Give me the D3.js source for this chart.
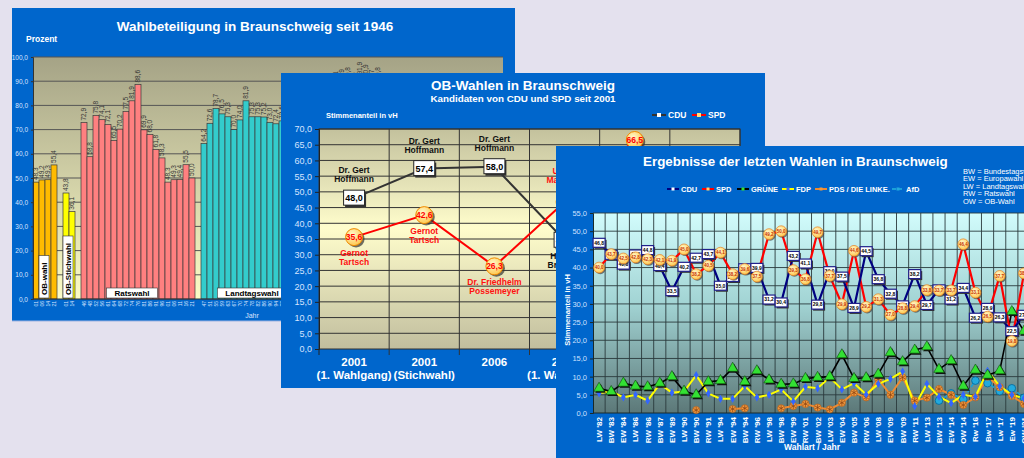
<!DOCTYPE html>
<html>
<head>
<meta charset="utf-8">
<script src="https://cdn.jsdelivr.net/npm/d3@7/dist/d3.min.js"></script>
<style>
  body { margin: 0; background: #e4e1ee; }
  svg { display: block; font-family: "Liberation Sans", Arial, sans-serif; }
</style>
</head>
<body>
<svg width="1024" height="458"></svg>
<script>
// ---- panel 1: Wahlbeteiligung (turnout, %)
const obYears = ["01", "06", "14", "21"];
const obValues = [48.3, 49.2, 49.3, 55.4];
const stichYears = ["01", "14"];
const stichValues = [43.8, 36.1];
const ratYears = ["46","48","52","56","61","64","68","72","74","76","81","86","91","96","01","06","11","16","21"];
const ratValues = [72.9, 58.8, 75.8, 74.1, 72.1, 65.5, 70.2, 77.5, 81.9, 88.6, 69.9, 68.0, 61.8, 58.3, 48.3, 49.3, 49.4, 55.5, 50.0];
const landYears = ["47","51","55","59","63","67","70","74","78","82","86","90","94","98","03","08","13","17","22"];
const landValues = [64.2, 72.6, 78.7, 76.5, 75.3, 70.0, 74.0, 81.9, 75.3, 75.3, 75.2, 73.0, 72.4, 73.6, 68.5, 60.2, 62.0, 65.0, 61.0];
const bundYears = ["49","53","57","61","65","69","72","76","80","83","87","90","94","98","02","05","09","13","17","21"];
const bundValues = [78.5, 86.2, 88.1, 88.9, 89.8, 87.6, 91.9, 90.9, 88.7, 89.8, 84.3, 78.4, 80.1, 83.0, 80.5, 79.0, 72.9, 73.5, 78.5, 78.9];

// ---- panel 2: OB-Wahlen
const obCats = ["2001|(1. Wahlgang)", "2001|(Stichwahl)", "2006", "2014|(1. Wahlgang)", "2014|(Stichwahl)", "2021|(1. Wahlgang)"];
const obCdu = [48.0, 57.4, 58.0, 34.6, 33.5, 31.4];
const obSpd = [35.6, 42.6, 26.3, 46.8, 66.5, 47.8];
const obCduNames = ["Dr. Gert|Hoffmann", "Dr. Gert|Hoffmann", "Dr. Gert|Hoffmann", "Hennig|Brandes", "", "Kaspar|Haller"];
const obSpdNames = ["Gernot|Tartsch", "Gernot|Tartsch", "Dr. Friedhelm|Possemeyer", "Ulrich|Markurth", "", "Thorsten|Kornblum"];

// ---- panel 3: Ergebnisse der letzten Wahlen
const wahlen = ["LW '82","BW '83","EW '84","LW '86","RW '86","BW '87","EW '89","LW '90","BW '90","RW '91","LW '94","EW '94",
  "BW '94","RW '96","LW '98","BW '98","EW '99","RW '01","BW '02","LW '03","EW '04","BW '05","RW '06","LW '08","EW '09","BW '09",
  "RW '11","LW '13","BW '13","EW '14","OW '14","Rw '16","Bw '17","Lw '17","Ew '19","OW '21"];
const cdu = [46.8, 43.5, 40.8, 43.6, 44.8, 40.4, 33.5, 40.2, 42.7, 43.7, 35.0, 37.4, 39.8, 39.9, 31.2, 30.4, 43.2, 41.1, 29.8, 39.0,
  37.5, 28.9, 44.5, 36.8, 32.8, 29.6, 38.2, 29.7, 34.0, 31.2, 34.4, 26.2, 28.9, 26.3, 22.5, 27.0];
const spd = [40.0, 43.7, 42.5, 42.8, 42.3, 42.1, 41.9, 45.0, 38.2, 40.5, 44.1, 38.2, 39.6, 37.5, 49.2, 50.0, 39.3, 36.8, 49.7, 37.7,
  29.9, 44.6, 29.2, 31.3, 27.0, 28.8, 29.4, 33.8, 33.7, 33.7, 46.4, 33.1, 26.5, 37.7, 19.8, 38.4];
const gruene = [6.8, 5.9, 8.2, 7.4, 7.2, 8.2, 10.0, 6.0, 5.0, 8.6, 8.9, 12.3, 8.6, 11.6, 9.1, 7.9, 8.0, 9.5, 9.8, 10.0,
  16.0, 9.5, 9.7, 10.7, 16.6, 14.1, 17.3, 18.2, 12.0, 14.4, 7.4, 11.8, 10.4, 11.6, 27.9, 22.5];
const fdp = [5.4, 6.0, 4.3, 5.0, 3.4, 8.0, 5.6, 5.9, 10.4, 5.4, 3.9, 3.9, 7.4, 4.3, 5.0, 6.5, 3.2, 7.2, 6.8, 9.8,
  6.5, 8.2, 5.1, 8.0, 9.4, 11.4, 1.9, 8.0, 4.5, 2.7, 5.0, 4.5, 11.6, 7.4, 5.0, 4.0];
const linke = [null, null, null, null, null, null, null, null, 0.8, null, null, 1.1, 1.3, null, null, 1.3, 1.9, 2.5, 1.5, 1.0,
  2.8, 5.6, 4.3, 9.3, 5.0, 9.8, 3.4, 4.2, 6.6, 5.0, 2.2, 4.3, 10.0, 7.1, 4.7, 2.5];
const afd = [null, null, null, null, null, null, null, null, null, null, null, null, null, null, null, null, null, null, null, null,
  null, null, null, null, null, null, null, null, 3.4, 5.4, 3.8, 8.9, 8.2, 6.0, 6.8, 4.2];
const abbrev = ["BW = Bundestagswahl", "EW = Europawahl", "LW = Landtagswahl", "RW = Ratswahl", "OW = OB-Wahl"];

const fmt = v => d3.format(".1f")(v).replace(".", ",");
const svg = d3.select("svg");
const defs = svg.append("defs");

function vgrad(id, stops) {
  const g = defs.append("linearGradient").attr("id", id)
    .attr("x1", 0).attr("y1", 0).attr("x2", 0).attr("y2", 1);
  stops.forEach(s => g.append("stop").attr("offset", s[0]).attr("stop-color", s[1]));
}
function rgrad(id, c0, c1) {
  const g = defs.append("radialGradient").attr("id", id).attr("cx", "40%").attr("cy", "35%").attr("r", "65%");
  g.append("stop").attr("offset", 0).attr("stop-color", c0);
  g.append("stop").attr("offset", 1).attr("stop-color", c1);
}
vgrad("bg1", [[0, "#a5a386"], [1, "#fcfcc6"]]);
vgrad("bg2", [[0, "#c3c19d"], [0.45, "#fffdcc"], [1, "#c1be9e"]]);
vgrad("bg3", [[0, "#d2fcfc"], [0.45, "#a2d4d4"], [1, "#5c7878"]]);
rgrad("ball", "#fffbd0", "#ffc850");

svg.append("rect").attr("width", 1024).attr("height", 458).attr("fill", "#e4e1ee");

function multiline(sel, str, x, y, dy) {
  str.split("|").forEach((s, i) => sel.append("tspan").attr("x", x).attr("y", y + i * dy).text(s));
}

// =================== PANEL 1 ===================
const p1 = svg.append("g");
p1.append("rect").attr("x", 12).attr("y", 8).attr("width", 503).attr("height", 313).attr("fill", "#0066cc");
p1.append("line").attr("x1", 12).attr("x2", 515).attr("y1", 321).attr("y2", 321).attr("stroke", "#9fb4e0");
p1.append("text").attr("x", 255).attr("y", 31).attr("text-anchor", "middle").attr("fill", "#fff")
  .attr("font-weight", "bold").attr("font-size", 13.5).text("Wahlbeteiligung in Braunschweig seit 1946");
p1.append("text").attr("x", 26).attr("y", 42).attr("fill", "#fff").attr("font-weight", "bold").attr("font-size", 8.5).text("Prozent");

const groups = [
  { name: "OB-wahl", years: obYears, values: obValues, color: "#ffbb00", vertical: true },
  { name: "OB-Stichwahl", years: stichYears, values: stichValues, color: "#ffff00", vertical: true },
  { name: "Ratswahl", years: ratYears, values: ratValues, color: "#ff8080" },
  { name: "Landtagswahl", years: landYears, values: landValues, color: "#33cccc" },
  { name: "Bundestagswahl", years: bundYears, values: bundValues, color: "#9999ff" }
];
const keys = [], bars = [];
groups.forEach((g, gi) => {
  g.years.forEach((yr, i) => {
    const k = gi + "-" + i;
    keys.push(k);
    bars.push({ k, year: yr, value: g.values[i], color: g.color, gi });
  });
  keys.push("gap" + gi);
});
const x1 = d3.scaleBand().domain(keys).range([33, 33 + keys.length * 6]);
const y1 = d3.scaleLinear().domain([0, 100]).range([299, 57]);
p1.append("rect").attr("x", 33).attr("y", 57).attr("width", 470).attr("height", 242).attr("fill", "url(#bg1)");
p1.append("g").selectAll("line").data(d3.range(10, 101, 10)).enter().append("line")
  .attr("x1", 33).attr("x2", 503).attr("y1", d => y1(d)).attr("y2", d => y1(d))
  .attr("stroke", "#555").attr("stroke-width", 1);
p1.append("g").selectAll("rect").data(bars).enter().append("rect")
  .attr("x", d => x1(d.k)).attr("width", x1.bandwidth())
  .attr("y", d => y1(d.value)).attr("height", d => 299 - y1(d.value))
  .attr("fill", d => d.color).attr("stroke", "#3a3a3a").attr("stroke-width", 0.7);
p1.append("g").selectAll("text").data(bars).enter().append("text")
  .attr("transform", d => `translate(${x1(d.k) + x1.bandwidth() / 2 + 2},${y1(d.value) - 2}) rotate(-90)`)
  .attr("font-size", 6.5).attr("fill", "#333").text(d => fmt(d.value));
p1.append("g").selectAll("text").data(bars).enter().append("text")
  .attr("transform", d => `translate(${x1(d.k) + x1.bandwidth() / 2 + 2},301) rotate(-90)`)
  .attr("text-anchor", "end").attr("font-size", 5).attr("fill", "#d8e4ff").text(d => d.year);
const ax1 = p1.append("g").attr("transform", "translate(33,0)")
  .call(d3.axisLeft(y1).tickValues(d3.range(0, 101, 10)).tickFormat(fmt).tickSize(2));
ax1.selectAll("text").attr("fill", "#d8e4ff").attr("font-size", 6.5);
ax1.selectAll("line,path").attr("stroke", "#333");
p1.append("line").attr("x1", 33).attr("x2", 503).attr("y1", 299).attr("y2", 299).attr("stroke", "#333");

// group labels
groups.forEach((g, gi) => {
  const ks = keys.filter(k => k.startsWith(gi + "-"));
  const a = x1(ks[0]), b = x1(ks[ks.length - 1]) + x1.bandwidth();
  const lg = p1.append("g");
  if (g.vertical) {
    const cx = (a + b) / 2 - 1;
    const t = lg.append("text").attr("transform", `translate(${cx + 3},295) rotate(-90)`)
      .attr("font-size", 8).attr("font-weight", "bold").text(g.name);
    const w = t.node().getComputedTextLength() + 10;
    lg.insert("rect", "text").attr("x", cx - 5).attr("y", 298 - w).attr("width", 10).attr("height", w)
      .attr("fill", "#fff").attr("stroke", "#333").attr("stroke-width", 0.6);
  } else {
    const cx = (a + b) / 2 - 6;
    const t = lg.append("text").attr("x", cx).attr("y", 296).attr("text-anchor", "middle")
      .attr("font-size", 8).attr("font-weight", "bold").text(g.name);
    const w = t.node().getComputedTextLength() + 16;
    lg.insert("rect", "text").attr("x", cx - w / 2).attr("y", 288).attr("width", w).attr("height", 10)
      .attr("fill", "#fff").attr("stroke", "#333").attr("stroke-width", 0.6);
  }
});
p1.append("text").attr("x", 252).attr("y", 318).attr("text-anchor", "middle").attr("fill", "#d8e4ff")
  .attr("font-size", 7).text("Jahr");

// =================== PANEL 2 ===================
const p2 = svg.append("g");
p2.append("rect").attr("x", 281).attr("y", 73).attr("width", 484).attr("height", 315).attr("fill", "#0066cc");
p2.append("text").attr("x", 523).attr("y", 90).attr("text-anchor", "middle").attr("fill", "#fff")
  .attr("font-weight", "bold").attr("font-size", 13.5).text("OB-Wahlen in Braunschweig");
p2.append("text").attr("x", 523).attr("y", 102).attr("text-anchor", "middle").attr("fill", "#fff")
  .attr("font-weight", "bold").attr("font-size", 9.8).text("Kandidaten von CDU und SPD seit 2001");
p2.append("text").attr("x", 326).attr("y", 118).attr("fill", "#fff").attr("font-weight", "bold")
  .attr("font-size", 7.5).text("Stimmenanteil in vH");

const x2 = d3.scaleBand().domain(obCats).range([319, 740]);
const y2 = d3.scaleLinear().domain([0, 70]).range([349, 129]);
p2.append("rect").attr("x", 319).attr("y", 129).attr("width", 421).attr("height", 220).attr("fill", "url(#bg2)");
p2.append("g").selectAll("line").data(d3.range(5, 71, 5)).enter().append("line")
  .attr("x1", 319).attr("x2", 740).attr("y1", d => y2(d)).attr("y2", d => y2(d)).attr("stroke", "#333");
p2.append("g").selectAll("line").data(obCats).enter().append("line")
  .attr("x1", d => x2(d) + x2.bandwidth()).attr("x2", d => x2(d) + x2.bandwidth())
  .attr("y1", 129).attr("y2", 355).attr("stroke", "#333");
p2.append("line").attr("x1", 319).attr("x2", 319).attr("y1", 349).attr("y2", 355).attr("stroke", "#222");
p2.append("rect").attr("x", 319).attr("y", 129).attr("width", 421).attr("height", 220)
  .attr("fill", "none").attr("stroke", "#333");
const ax2 = p2.append("g").attr("transform", "translate(319,0)")
  .call(d3.axisLeft(y2).tickValues(d3.range(0, 71, 5)).tickFormat(fmt).tickSize(4));
ax2.selectAll("text").attr("fill", "#d6e4ff").attr("font-size", 9);
ax2.selectAll("line,path").attr("stroke", "#222");
p2.append("g").selectAll("text").data(obCats).enter().append("text")
  .attr("text-anchor", "middle").attr("fill", "#fff").attr("font-weight", "bold").attr("font-size", 11.5)
  .each(function (d) { multiline(d3.select(this), d, x2(d) + x2.bandwidth() / 2, 366, 13); });

const cx2 = (d, i) => x2(obCats[i]) + x2.bandwidth() / 2;
p2.append("path").datum(obCdu).attr("fill", "none").attr("stroke", "#333").attr("stroke-width", 2)
  .attr("d", d3.line().x((d, i) => cx2(d, i)).y(d => y2(d)));
p2.append("path").datum(obSpd).attr("fill", "none").attr("stroke", "#ff0000").attr("stroke-width", 2)
  .attr("d", d3.line().x((d, i) => cx2(d, i)).y(d => y2(d)));

obCdu.forEach((v, i) => {
  const x = cx2(v, i), y = y2(v);
  p2.append("rect").attr("x", x - 9).attr("y", y - 6).attr("width", 21).attr("height", 15).attr("fill", "#333");
  p2.append("rect").attr("x", x - 10.5).attr("y", y - 8).attr("width", 21).attr("height", 15)
    .attr("fill", "#fff").attr("stroke", "#222");
  p2.append("text").attr("x", x).attr("y", y + 3).attr("text-anchor", "middle").attr("font-weight", "bold")
    .attr("font-size", 9).text(fmt(v));
  const above = v > obSpd[i];
  const t = p2.append("text").attr("text-anchor", "middle").attr("font-weight", "bold").attr("font-size", 8.5).attr("fill", "#111");
  if (obCduNames[i]) multiline(t, obCduNames[i], x, above ? y - 25 : y + 19, 9);
});
obSpd.forEach((v, i) => {
  const x = cx2(v, i), y = y2(v);
  p2.append("circle").attr("cx", x + 2).attr("cy", y + 2).attr("r", 8.5).attr("fill", "#333").attr("opacity", 0.7);
  p2.append("circle").attr("cx", x).attr("cy", y).attr("r", 8.5).attr("fill", "url(#ball)").attr("stroke", "#f08a00");
  p2.append("text").attr("x", x).attr("y", y + 3).attr("text-anchor", "middle").attr("font-weight", "bold")
    .attr("font-size", 8.5).attr("fill", "#ff0000").text(fmt(v));
  const below = v < obCdu[i];
  const t = p2.append("text").attr("text-anchor", "middle").attr("font-weight", "bold").attr("font-size", 8.5).attr("fill", "#ff1010");
  if (obSpdNames[i]) multiline(t, obSpdNames[i], x, below ? y + 19 : y - 28, 9);
});
// legend
[["CDU", "#333", 652], ["SPD", "#ff0000", 692]].forEach(([n, c, lx]) => {
  p2.append("line").attr("x1", lx).attr("x2", lx + 14).attr("y1", 115).attr("y2", 115).attr("stroke", c).attr("stroke-width", 2);
  p2.append("rect").attr("x", lx + 5).attr("y", 113).attr("width", 4).attr("height", 4).attr("fill", n === "CDU" ? "#fff" : "#ffe080");
  p2.append("text").attr("x", lx + 16).attr("y", 118).attr("fill", "#fff").attr("font-weight", "bold").attr("font-size", 8.5).text(n);
});

// =================== PANEL 3 ===================
const p3 = svg.append("g");
p3.append("rect").attr("x", 556).attr("y", 146).attr("width", 480).attr("height", 320).attr("fill", "#0066cc");
p3.append("text").attr("x", 643).attr("y", 166).attr("fill", "#fff").attr("font-weight", "bold")
  .attr("font-size", 13.4).text("Ergebnisse der letzten Wahlen in Braunschweig");
p3.append("g").selectAll("text").data(abbrev).enter().append("text")
  .attr("x", 963).attr("y", (d, i) => 174 + i * 7.4).attr("fill", "#fff").attr("font-size", 7.5).text(d => d);

const x3 = d3.scaleBand().domain(wahlen).range([593, 593 + wahlen.length * 12.14]);
const y3 = d3.scaleLinear().domain([0, 55]).range([413, 213]);
const c3 = d => x3(d) + x3.bandwidth() / 2;
p3.append("rect").attr("x", 593).attr("y", 213).attr("width", 450).attr("height", 200).attr("fill", "url(#bg3)");
p3.append("g").selectAll("line").data(d3.range(5, 56, 5)).enter().append("line")
  .attr("x1", 593).attr("x2", 1040).attr("y1", d => y3(d)).attr("y2", d => y3(d)).attr("stroke", "#2a3a3c").attr("stroke-width", 0.9);
p3.append("g").selectAll("line").data(wahlen).enter().append("line")
  .attr("x1", d => x3(d) + x3.bandwidth()).attr("x2", d => x3(d) + x3.bandwidth())
  .attr("y1", 213).attr("y2", 413).attr("stroke", "#2a3a3c").attr("stroke-width", 0.9);
const ax3 = p3.append("g").attr("transform", "translate(593,0)")
  .call(d3.axisLeft(y3).tickValues(d3.range(0, 56, 5)).tickFormat(fmt).tickSize(3));
ax3.selectAll("text").attr("fill", "#cfe0ff").attr("font-size", 7.5);
ax3.selectAll("line,path").attr("stroke", "#1a2a2a");
p3.append("line").attr("x1", 593).attr("x2", 1040).attr("y1", 413).attr("y2", 413).attr("stroke", "#1a2a2a");
p3.append("text").attr("transform", "translate(570,310) rotate(-90)").attr("text-anchor", "middle")
  .attr("fill", "#fff").attr("font-weight", "bold").attr("font-size", 7.5).text("Stimmenanteil in vH");
p3.append("g").selectAll("text").data(wahlen).enter().append("text")
  .attr("transform", d => `translate(${c3(d) + 3},417) rotate(-90)`).attr("text-anchor", "end")
  .attr("fill", "#fff").attr("font-weight", "bold").attr("font-size", 8).text(d => d);
p3.append("text").attr("x", 812).attr("y", 450).attr("text-anchor", "middle").attr("fill", "#fff")
  .attr("font-weight", "bold").attr("font-size", 8.5).text("Wahlart / Jahr");

const line3 = d3.line().defined(d => d != null).x((d, i) => c3(wahlen[i])).y(d => y3(d));
const series = [
  { name: "CDU", data: cdu, color: "#000080", w: 2.2 },
  { name: "SPD", data: spd, color: "#ff0000", w: 2.2 },
  { name: "GRÜNE", data: gruene, color: "#000000", w: 1.6 },
  { name: "FDP", data: fdp, color: "#ffff00", w: 2 },
  { name: "PDS / DIE LINKE.", data: linke, color: "#f08a30", w: 2 },
  { name: "AfD", data: afd, color: "#1aa0d8", w: 1.6, dash: "4,2" }
];
series.slice().reverse().forEach(s => {
  p3.append("path").datum(s.data).attr("fill", "none").attr("stroke", s.color).attr("stroke-width", s.w)
    .attr("stroke-dasharray", s.dash || null).attr("d", line3);
});
const pts = arr => arr.map((v, i) => ({ v, x: c3(wahlen[i]), y: y3(v) })).filter(d => d.v != null);
const asterisk = d3.symbolAsterisk || d3.symbolCross;

// small-party markers
p3.append("g").selectAll("circle").data(pts(afd)).enter().append("circle")
  .attr("cx", d => d.x).attr("cy", d => d.y).attr("r", 3.8).attr("fill", "#22aadd").attr("stroke", "#006699").attr("stroke-width", 0.8);
const lk = p3.append("g").selectAll("g").data(pts(linke)).enter().append("g")
  .attr("transform", d => `translate(${d.x},${d.y})`);
lk.append("circle").attr("r", 3.6).attr("fill", "#f09a40").attr("stroke", "#b85a10").attr("stroke-width", 0.6);
lk.append("path").attr("d", d3.symbol().type(asterisk).size(26)).attr("fill", "none").attr("stroke", "#8a4010").attr("stroke-width", 0.7);
p3.append("g").selectAll("path").data(pts(fdp)).enter().append("path")
  .attr("transform", d => `translate(${d.x},${d.y})`).attr("d", d3.symbol().type(d3.symbolDiamond).size(20))
  .attr("fill", "#3366ff");
p3.append("g").selectAll("path.sh").data(pts(gruene)).enter().append("path")
  .attr("transform", d => `translate(${d.x + 1.5},${d.y + 1.5})`).attr("d", d3.symbol().type(d3.symbolTriangle).size(48))
  .attr("fill", "#111");
p3.append("g").selectAll("path").data(pts(gruene)).enter().append("path")
  .attr("transform", d => `translate(${d.x},${d.y})`).attr("d", d3.symbol().type(d3.symbolTriangle).size(48))
  .attr("fill", "#33e033").attr("stroke", "#0a4a0a").attr("stroke-width", 0.6);

// CDU boxes
const cb = p3.append("g").selectAll("g").data(pts(cdu)).enter().append("g")
  .attr("transform", d => `translate(${d.x},${d.y})`);
cb.append("rect").attr("x", -4.5).attr("y", -3).attr("width", 12).attr("height", 9).attr("fill", "#333");
cb.append("rect").attr("x", -6).attr("y", -4.5).attr("width", 12).attr("height", 9)
  .attr("fill", "#fff").attr("stroke", "#20208a").attr("stroke-width", 1.2);
cb.append("text").attr("y", 1.8).attr("text-anchor", "middle").attr("font-size", 5).attr("font-weight", "bold").text(d => fmt(d.v));
// SPD balls
const sb = p3.append("g").selectAll("g").data(pts(spd)).enter().append("g")
  .attr("transform", d => `translate(${d.x},${d.y})`);
sb.append("circle").attr("cx", 1.2).attr("cy", 1.2).attr("r", 5.4).attr("fill", "#444").attr("opacity", 0.7);
sb.append("circle").attr("r", 5.4).attr("fill", "url(#ball)").attr("stroke", "#e88020").attr("stroke-width", 0.7);
sb.append("text").attr("y", 1.6).attr("text-anchor", "middle").attr("font-size", 4.5).attr("font-weight", "bold")
  .attr("fill", "#c83000").text(d => fmt(d.v));

// legend panel 3
const legX = [667, 702, 737, 782, 815, 892];
series.forEach((s, i) => {
  const lx = legX[i];
  p3.append("line").attr("x1", lx).attr("x2", lx + 12).attr("y1", 189).attr("y2", 189).attr("stroke", s.color)
    .attr("stroke-width", 2).attr("stroke-dasharray", s.dash || null);
  p3.append("rect").attr("x", lx + 4.5).attr("y", 187.5).attr("width", 3).attr("height", 3)
    .attr("fill", ["#fff", "#ffd070", "#33e033", "#3366ff", "#f09a40", "#22aadd"][i]);
  p3.append("text").attr("x", lx + 14).attr("y", 192).attr("fill", "#fff").attr("font-weight", "bold")
    .attr("font-size", 7.5).text(s.name);
});
</script>
</body>
</html>
